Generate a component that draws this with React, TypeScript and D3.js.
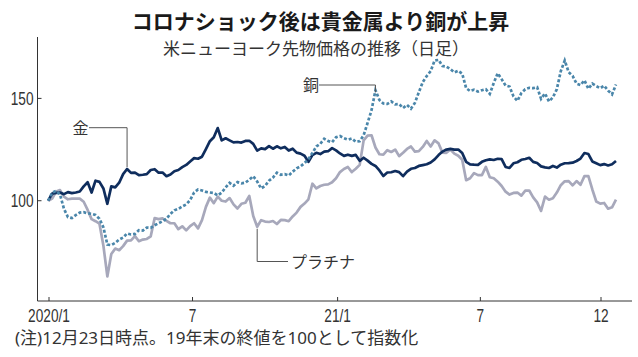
import React from "react";
import * as d3 from "d3";

// ---- data (index = 100 at end of 2019), sampled every 5 days from 2019-12-31 ----
const SAMPLE_START = "2019-12-31";
const SAMPLE_STEP_DAYS = 5;

const goldValues = [
  100, 103.5, 103.8, 104, 103.2, 104.2, 103.7, 104, 104.5, 107,
  109, 104, 109.8, 109.2, 106, 98.5, 107, 106.5, 108.8, 113,
  115.5, 113.6, 113.7, 112.5, 112.7, 113, 115, 115.4, 113.7, 113.8,
  112, 112.8, 114.4, 115, 116.4, 117.5, 119.2, 120.8, 120.5, 121.5,
  125.2, 129.1, 131, 135.5, 129.5, 130.5, 129.5, 128.5, 128.7, 128.4,
  129.2, 129.3, 127.8, 124.5, 125.6, 125.2, 126.7, 125.4, 126.6, 125.6,
  126.3, 124.5, 125.4, 123.5, 123, 122, 119, 122.3, 123.4, 122.8,
  124, 124.2, 125.7, 124.6, 123.1, 121.9, 122.5, 121.9, 122.4, 119.5,
  121, 119.6, 118, 117, 114.8, 112.1, 113.8, 113.9, 114.5, 114,
  112, 114.2, 115.6, 116, 117, 117.4, 117.8, 118.7, 120.2, 122.3,
  124, 125, 125.3, 125, 125, 123.3, 119, 117.8, 117.6, 117.5,
  119, 119.8, 120.2, 119.9, 120.5, 120.3, 116.5, 116, 118.3, 118.8,
  120, 120.4, 121, 119, 118.4, 116.8, 116.3, 116, 117, 116.2,
  117.6, 118.3, 118.4, 118.6, 119.4, 120.6, 123.3, 122.8, 119.2, 118.3,
  117.4, 117.9, 117.2, 117.8, 119.4,
];

const platinumValues = [
  100, 101, 104.5, 105.2, 102, 100.7, 101, 101, 101, 99.5,
  95.5, 91, 90, 88.8, 78, 63, 74, 76.6, 75.8, 77.8,
  80.5, 80.6, 82.7, 80.2, 81, 81.3, 82.6, 91.5, 91, 91.4,
  90.2, 89, 89, 86.1, 87.5, 85.5, 87.6, 89, 86.5, 90.5,
  97, 101.5, 98.8, 102, 100, 99.6, 101.3, 98.2, 96.2, 98.5,
  99, 102.3, 92.5, 87.3, 90.5, 89.8, 89.6, 90.1, 88.6, 90.6,
  90.5, 90, 92.3, 94.2, 97, 98.6, 100.7, 108.3, 106, 107.2,
  107.8, 108, 109, 111, 114, 115.5, 116.5, 114, 115.6, 117.5,
  129.5, 131.8, 132, 126, 122.7, 122.5, 124.7, 123.8, 125, 121.8,
  123.4, 125.3, 126.5, 124, 124.2, 126.3, 129.2, 126.5, 129.5, 128,
  123.5, 123.4, 125, 123, 122, 120, 110, 111, 113.5, 112.5,
  112.5, 116.5, 111.5, 111, 109.3, 107.2, 104.4, 103, 103.8, 104,
  102.5, 104.9, 105, 101.6, 99.2, 95, 102, 100.5, 101.2, 104,
  107.6, 109.5, 109.6, 107.5, 109.6, 107.8, 112, 112, 105.5, 99.6,
  98.6, 98.9, 96.1, 96.8, 100.5,
];

const copperValues = [
  100, 104, 104.8, 103, 96, 92, 91.5, 93, 94.2, 94.4,
  93.8, 93.6, 93, 91.2, 87, 78.6, 78.3, 79.4, 81, 82,
  84, 83.5, 83.8, 85.6, 85.4, 86.9, 86.7, 88, 89, 90,
  91.2, 93.6, 95.3, 96, 97.2, 98.2, 100.3, 104, 105.5, 105,
  104.3, 104, 103.8, 102.6, 104, 106.5, 108.7, 107.3, 109.1, 108.5,
  108.8, 110.3, 112, 109.4, 106, 107.2, 109.8, 111.3, 113.7, 112.7,
  113, 112.3, 114.2, 115.8, 116.8, 118.4, 120.3, 123.3, 126.5, 127.8,
  130.3, 129.2, 128.6, 131, 131.6, 130.6, 129.8, 130.4, 128.8, 129.1,
  132, 138, 144.2, 154, 149.2, 147.5, 147.3, 148.5, 147.1, 147.2,
  145.3, 146.8, 145, 147.8, 153, 158, 160.9, 163.3, 168.5, 168.8,
  165.8, 165.5, 164.3, 162.7, 163.5, 162.1, 155, 153.6, 154.2, 153.3,
  154, 154.5, 152.2, 157.5, 162.3, 159.4, 156.3, 155.8, 151, 148.8,
  152.6, 154.5, 155.2, 155, 155.5, 149.8, 152.4, 148.5, 150.5, 154.5,
  163.3, 168.5, 162.8, 161, 157.2, 156.5, 158.8, 154.7, 157.2, 156,
  155, 156.2, 153.8, 152, 156.8,
];

const yTicks = [100, 150];
const xTicks = [
  { date: "2020-01-01", label: "2020/1" },
  { date: "2020-07-01", label: "7" },
  { date: "2021-01-01", label: "21/1" },
  { date: "2021-07-01", label: "7" },
  { date: "2021-12-01", label: "12" },
];

const TITLE = "コロナショック後は貴金属より銅が上昇";
const SUBTITLE = "米ニューヨーク先物価格の推移（日足）";
const NOTE = "(注)12月23日時点。19年末の終値を100として指数化";

// ---- layout ----
const W = 638;
const H = 357;
const AXIS_X = 37.5;
const AXIS_Y = 301;
const AXIS_RIGHT = 632;

const parse = d3.timeParse("%Y-%m-%d");
const FONT = "'Noto Sans CJK JP', 'Noto Sans', sans-serif";
const TICK_FONT = "'Liberation Sans', Arial, sans-serif";

export default function App() {
  const x = d3
    .scaleTime()
    .domain([parse("2020-01-01")!, parse("2021-12-01")!])
    .range([49, 601]);
  const y = d3.scaleLinear().domain([51, 180]).range([301, 37]);

  const start = parse(SAMPLE_START)!;
  const dates = goldValues.map((_, i) => d3.timeDay.offset(start, i * SAMPLE_STEP_DAYS));

  const line = d3
    .line<number>()
    .x((_, i) => x(dates[i]))
    .y((v) => y(v));

  const gold = line(goldValues) || "";
  const plat = line(platinumValues) || "";
  const copper = line(copperValues) || "";

  // annotation anchor points on series
  const goldAnchor = { x: x(dates[20]), y: y(goldValues[20]) };
  const copperAnchor = { x: x(dates[83]), y: y(copperValues[83]) };
  const platAnchor = { x: x(dates[53]), y: y(platinumValues[53]) };

  const leader = "#555";

  return (
    <svg
      width={W}
      height={H}
      style={{ position: "absolute", left: 0, top: 0, background: "#fff" }}
      fontFamily={FONT}
    >
      <rect width={W} height={H} fill="#fff" />
      {/* titles */}
      <text x={320.5} y={29} textAnchor="middle" fontSize={21} fontWeight={700} fill="#1a1a1a">
        {TITLE}
      </text>
      <text x={316} y={55} textAnchor="middle" fontSize={17} fill="#333">
        {SUBTITLE}
      </text>

      {/* axes */}
      <line x1={AXIS_X} x2={AXIS_X} y1={37} y2={AXIS_Y} stroke="#333" strokeWidth={1} />
      <line x1={AXIS_X} x2={AXIS_RIGHT} y1={AXIS_Y} y2={AXIS_Y} stroke="#333" strokeWidth={1} />
      {yTicks.map((t) => (
        <g key={t}>
          <line x1={AXIS_X} x2={AXIS_X + 4} y1={y(t)} y2={y(t)} stroke="#333" strokeWidth={1} />
          <text
            transform={`translate(33.5,${y(t) + 6.5}) scale(0.76,1)`}
            textAnchor="end"
            fontSize={18}
            fontFamily={TICK_FONT}
            fill="#333"
          >
            {t}
          </text>
        </g>
      ))}
      {xTicks.map((t) => {
        const px = x(parse(t.date)!);
        return (
          <g key={t.date}>
            <line x1={px} x2={px} y1={AXIS_Y} y2={AXIS_Y - 4} stroke="#333" strokeWidth={1} />
            <text
              transform={`translate(${px},322) scale(0.76,1)`}
              textAnchor="middle"
              fontSize={18}
              fontFamily={TICK_FONT}
              fill="#333"
            >
              {t.label}
            </text>
          </g>
        );
      })}

      {/* series */}
      <path d={plat} fill="none" stroke="#a7a8bb" strokeWidth={2.7} strokeLinejoin="round" />
      <path d={gold} fill="none" stroke="#0f2d5d" strokeWidth={2.7} strokeLinejoin="round" />
      <path d={copper} fill="none" stroke="#4a86aa" strokeWidth={2.7} strokeDasharray="3 2" />

      {/* annotations */}
      <polyline
        points={`89,127.7 ${goldAnchor.x},127.7 ${goldAnchor.x},${goldAnchor.y - 2}`}
        fill="none"
        stroke={leader}
        strokeWidth={1}
      />
      <text x={80.5} y={134} textAnchor="middle" fontSize={16} fill="#333">
        金
      </text>
      <polyline
        points={`319,85 ${copperAnchor.x},85 ${copperAnchor.x},${copperAnchor.y + 2}`}
        fill="none"
        stroke={leader}
        strokeWidth={1}
      />
      <text x={311} y={91} textAnchor="middle" fontSize={16} fill="#333">
        銅
      </text>
      <polyline
        points={`${platAnchor.x},${platAnchor.y + 2} ${platAnchor.x},261.5 288,261.5`}
        fill="none"
        stroke={leader}
        strokeWidth={1}
      />
      <text x={291} y={268} fontSize={16} fill="#333">
        プラチナ
      </text>

      {/* footnote */}
      <text x={15} y={344} fontSize={17} fontFamily="'Noto Sans', 'Noto Sans CJK JP', sans-serif" fill="#333">
        {NOTE}
      </text>
    </svg>
  );
}
